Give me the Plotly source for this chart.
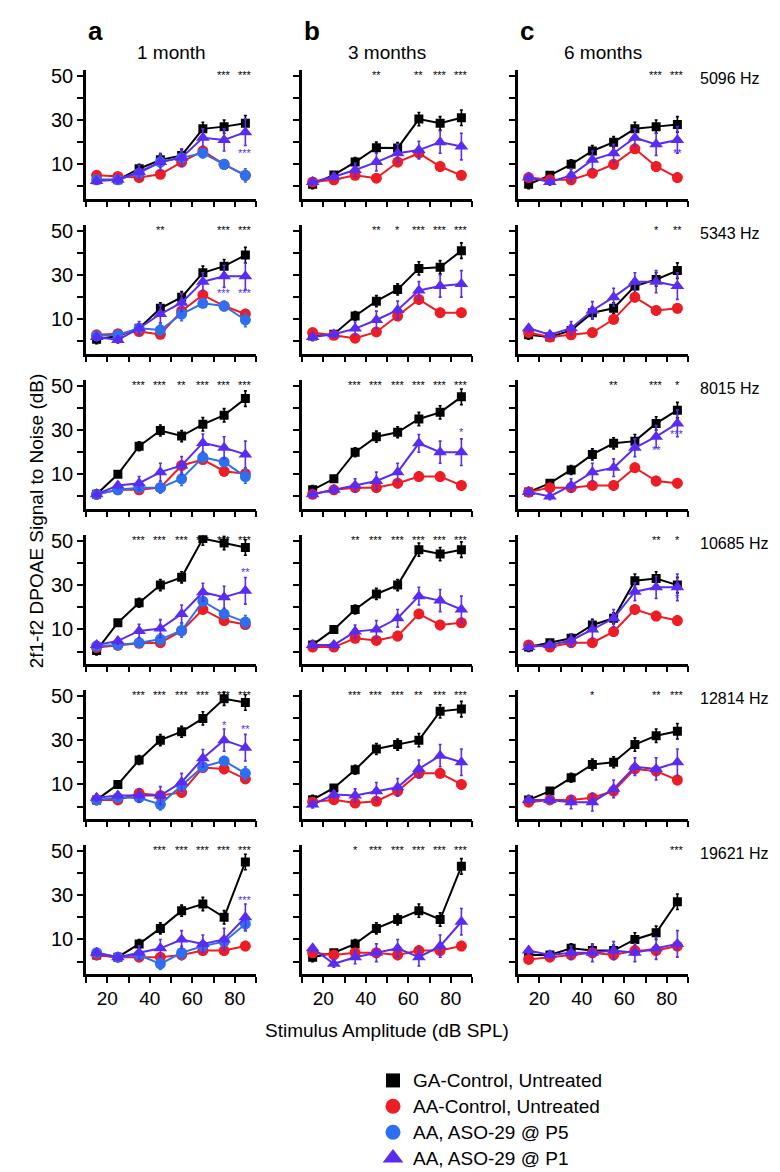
import plotly.graph_objects as go

X_DB = [15, 25, 35, 45, 55, 65, 75, 85]
FREQS = ["5096 Hz", "5343 Hz", "8015 Hz", "10685 Hz", "12814 Hz", "19621 Hz"]
AGES = ["1 month", "3 months", "6 months"]
PANEL_LETTERS = ["a", "b", "c"]
Y_TICKS = [0, 10, 20, 30, 40, 50]
Y_TICK_TEXT = ["", "10", "", "30", "", "50"]
X_TICKS = [10, 20, 30, 40, 50, 60, 70, 80, 90]
X_TICK_TEXT = ["", "20", "", "40", "", "60", "", "80", ""]

# ---- GA-Control, Untreated (black squares) ----
GA_1M = [[3, 3, 8, 12, 14, 26, 27, 28.5],
         [1, 2.5, 6, 15, 20, 31, 34, 39],
         [1, 10, 22.7, 29.8, 27.3, 32.6, 36.7, 44.2],
         [0.5, 13, 22, 30, 33.5, 51, 49, 47],
         [3, 10, 21, 30, 33.8, 39.8, 48.7, 47],
         [3, 2, 8, 15, 23, 26, 20, 45]]
GA_3M = [[1, 5.2, 11, 17.5, 17.3, 30.4, 28.5, 31],
         [2.5, 3.3, 11.5, 18.2, 23.5, 33, 33.5, 41],
         [3, 8, 20, 27, 29, 35, 38, 45],
         [3, 10, 19, 26, 30, 46, 44, 46],
         [3.1, 8.4, 16.6, 26, 28, 30, 43, 44],
         [2, 4, 8, 15, 19, 23, 19, 43]]
GA_6M = [[1, 5, 10, 16, 20, 26, 27, 28],
         [3, 2, 5, 13, 15, 25, 28, 32],
         [2, 6, 12, 19, 24, 25, 33, 39],
         [2, 4, 6, 12, 15, 32, 33, 30],
         [3, 7, 13, 19, 20, 28, 32, 34],
         [3, 3, 6, 5, 5, 10, 13, 27]]
GA_ERR = [2, 1, 2, 2.5, 2.5, 3, 3, 3.5]

# ---- AA-Control, Untreated (red circles) ----
AA_1M = [[5, 4.5, 4, 5.5, 11, 16, 10, 5],
         [3, 3.5, 4.5, 3.2, 13.8, 21, 16, 12.4],
         [1, 3, 3, 4, 14, 16.7, 11.4, 10.3],
         [1.8, 2.8, 3.7, 4, 9.3, 19, 14, 12.2],
         [3, 3, 6, 5, 6.4, 17.6, 17, 12.5],
         [3, 2, 2, 2, 3, 5, 5, 7]]
AA_3M = [[2, 3, 5, 3.7, 11, 15, 9, 5],
         [4, 2.8, 1.5, 4.3, 11.5, 19, 13, 13],
         [1, 3, 4, 4, 6, 9, 9, 5],
         [2, 2, 6, 5, 7, 17, 12, 13],
         [2.1, 3.1, 1.6, 2.4, 7, 15, 15, 10],
         [4, 3, 4, 4, 3, 5, 5, 7]]
AA_6M = [[4, 3, 3, 6, 10, 17, 9, 4],
         [4, 2, 3, 4, 10, 20, 14, 15],
         [2, 4, 4, 5, 5, 13, 7, 6],
         [3, 2, 4, 4, 9, 19, 16, 14],
         [2, 3, 3, 4, 7, 17, 16, 12],
         [1, 2, 3, 4, 3, 5, 5, 7]]
AA_ERR = [1, 1, 1, 1.5, 2, 2, 2, 2]

# ---- AA, ASO-29 @ P5 (blue circles, 1 month only) ----
P5_1M = [[3, 3, 6, 11, 13, 15, 10, 5],
         [2.5, 3, 6, 5.2, 12.4, 17.2, 16, 9.7],
         [1, 3, 4, 4, 8, 17.7, 15.6, 9],
         [2.5, 3, 4, 5.5, 9.5, 22.7, 17, 13.3],
         [3, 4, 4, 1, 9.5, 18, 20.6, 15],
         [4, 2, 3, -1, 4, 7, 9, 17]]
P5_ERR = [1, 1, 1.5, 2.5, 3, 2, 2, 3]

# ---- AA, ASO-29 @ P1 (purple triangles) ----
P1_1M = [[2.5, 3, 6.5, 11, 13, 22, 21, 24.5],
         [2, 0.7, 6, 12.4, 17.5, 27, 29.4, 29.4],
         [1, 5, 6, 11, 14, 24.2, 22, 19],
         [3, 4.8, 9.3, 10.4, 17, 26.8, 24.5, 27.4],
         [4, 5, 5, 5, 11, 21.8, 30, 26.6],
         [4, 2, 4, 6, 10, 8, 10, 20]]
P1_3M = [[2, 4.4, 7.4, 11, 15, 16.4, 20, 18],
         [2, 3.3, 5.8, 9.7, 14.2, 23, 25, 26],
         [1, 3, 5, 7, 11, 24, 20, 20],
         [3, 3, 9, 10, 15, 25, 23, 19],
         [0.9, 5.4, 5, 6.9, 8.7, 17, 23, 20],
         [6, -1, 2, 4, 6, 2, 7, 18]]
P1_6M = [[4, 2, 5, 12, 15, 22, 19, 21],
         [6, 3, 6, 14, 20, 27, 27, 25],
         [2, 0, 5, 11, 13, 22, 27, 33],
         [2, 3, 5, 10, 15, 27, 29, 29],
         [3, 3, 2, 2, 8, 18, 17, 20],
         [5, 3, 4, 4, 5, 4, 6, 8]]
P1_ERR = [1.5, 1.5, 3, 4, 4, 4, 5, 6]

# ---- significance stars (GA vs AA), one list of 8 per row ----
STARS_1M = [["", "", "", "", "", "", "***", "***"],
            ["", "", "", "**", "", "", "***", "***"],
            ["", "", "***", "***", "**", "***", "***", "***"],
            ["", "", "***", "***", "***", "***", "***", "***"],
            ["", "", "***", "***", "***", "***", "***", "***"],
            ["", "", "", "***", "***", "***", "***", "***"]]
STARS_3M = [["", "", "", "**", "", "**", "***", "***"],
            ["", "", "", "**", "*", "***", "***", "***"],
            ["", "", "***", "***", "***", "***", "***", "***"],
            ["", "", "**", "***", "***", "***", "***", "***"],
            ["", "", "***", "***", "***", "**", "***", "***"],
            ["", "", "*", "***", "***", "***", "***", "***"]]
STARS_6M = [["", "", "", "", "", "", "***", "***"],
            ["", "", "", "", "", "", "*", "**"],
            ["", "", "", "", "**", "", "***", "*"],
            ["", "", "", "", "", "", "**", "*"],
            ["", "", "", "*", "", "", "**", "***"],
            ["", "", "", "", "", "", "", "***"]]
# purple stars (P1 vs AA): (column, row, x dB, y dB, text)
P1_STARS = [(0, 0, 85, 15, "***"), (0, 1, 75, 22, "***"), (0, 1, 85, 22, "***"),
            (0, 3, 85, 36, "**"), (0, 4, 75, 37, "*"), (0, 4, 85, 35, "**"),
            (0, 5, 85, 28, "***"), (1, 2, 85, 29, "*"), (2, 0, 85, 15, "**"),
            (2, 2, 75, 21, "**"), (2, 2, 85, 28, "***"), (2, 3, 85, 24, "*")]

BLACK = "#000000"
RED = "#ee1c25"
BLUE = "#2e6ff0"
PURPLE = "#5a2cf2"
FONT = "Liberation Sans, Arial, sans-serif"

W, H = 780, 1172
COL_X = [(78, 248), (294, 464), (510, 680)]
ROW_TOP0, ROW_PITCH, ROW_H = 57.4, 155.7, 129
Y_RANGE = [-5.5, 52.5]

GA = [GA_1M, GA_3M, GA_6M]
AA = [AA_1M, AA_3M, AA_6M]
P1 = [P1_1M, P1_3M, P1_6M]
STARS = [STARS_1M, STARS_3M, STARS_6M]

fig = go.Figure()
layout = {}
annotations = []


def add_series(xa, ya, y, err, color, symbol, size, name):
    fig.add_trace(go.Scatter(
        x=X_DB, y=y, mode="lines+markers", xaxis=xa, yaxis=ya,
        line=dict(color=color, width=2),
        marker=dict(color=color, symbol=symbol, size=size, line=dict(width=0)),
        error_y=dict(type="data", array=err, color=color, thickness=1.6, width=1.5),
        name=name, showlegend=False))


for c in range(3):
    for r in range(6):
        idx = r * 3 + c + 1
        xa = "x" if idx == 1 else f"x{idx}"
        ya = "y" if idx == 1 else f"y{idx}"
        top = ROW_TOP0 + r * ROW_PITCH
        bot = top + ROW_H
        x0, x1 = COL_X[c]
        layout["xaxis" if idx == 1 else f"xaxis{idx}"] = dict(
            domain=[x0 / W, x1 / W], range=[10, 90], anchor=ya,
            tickmode="array", tickvals=X_TICKS,
            ticktext=X_TICK_TEXT if r == 5 else [""] * len(X_TICKS),
            ticks="outside", ticklen=6, tickwidth=2, tickcolor=BLACK,
            showline=True, linecolor=BLACK, linewidth=2.5, showgrid=False,
            zeroline=False, tickfont=dict(size=19, color=BLACK, family=FONT))
        layout["yaxis" if idx == 1 else f"yaxis{idx}"] = dict(
            domain=[1 - bot / H, 1 - top / H], range=Y_RANGE, anchor=xa,
            tickmode="array", tickvals=Y_TICKS,
            ticktext=Y_TICK_TEXT if c == 0 else [""] * len(Y_TICKS),
            ticks="outside", ticklen=6, tickwidth=2, tickcolor=BLACK,
            showline=True, linecolor=BLACK, linewidth=2.5, showgrid=False,
            zeroline=False, tickfont=dict(size=20, color=BLACK, family=FONT))

        add_series(xa, ya, GA[c][r], GA_ERR, BLACK, "square", 9, "GA")
        add_series(xa, ya, AA[c][r], AA_ERR, RED, "circle", 11, "AA")
        if c == 0:
            add_series(xa, ya, P5_1M[r], P5_ERR, BLUE, "circle", 11, "P5")
        add_series(xa, ya, P1[c][r], P1_ERR, PURPLE, "triangle-up", 12, "P1")

        for k, s in enumerate(STARS[c][r]):
            if s:
                annotations.append(dict(x=X_DB[k], y=50.5, xref=xa, yref=ya, text=s,
                                        showarrow=False, font=dict(size=11, color=BLACK, family=FONT)))
        if c == 2:
            annotations.append(dict(x=(x1 + 10) / W, y=1 - (top + 8) / H, xref="paper", yref="paper",
                                    text=FREQS[r], showarrow=False, xanchor="left", yanchor="middle",
                                    font=dict(size=16, color=BLACK, family=FONT)))

for (c, r, xv, yv, s) in P1_STARS:
    idx = r * 3 + c + 1
    xa = "x" if idx == 1 else f"x{idx}"
    ya = "y" if idx == 1 else f"y{idx}"
    annotations.append(dict(x=xv, y=yv, xref=xa, yref=ya, text=s, showarrow=False,
                            font=dict(size=11, color=PURPLE, family=FONT)))

for c in range(3):
    x0, x1 = COL_X[c]
    annotations.append(dict(x=x0 / W, y=1 - 18 / H, xref="paper", yref="paper", text="<b>" + PANEL_LETTERS[c] + "</b>",
                            showarrow=False, xanchor="left", yanchor="middle",
                            font=dict(size=26, color=BLACK, family=FONT)))
    annotations.append(dict(x=(x0 + x1) / 2 / W, y=1 - 40 / H, xref="paper", yref="paper", text=AGES[c],
                            showarrow=False, xanchor="center", yanchor="middle",
                            font=dict(size=19, color=BLACK, family=FONT)))

# axis titles
annotations.append(dict(x=16 / W, y=1 - 510 / H, xref="paper", yref="paper",
                        text="2f1-f2 DPOAE Signal to Noise (dB)", textangle=-90, showarrow=False,
                        font=dict(size=19, color=BLACK, family=FONT)))
annotations.append(dict(x=379 / W, y=1 - 1034 / H, xref="paper", yref="paper",
                        text="Stimulus Amplitude (dB SPL)", showarrow=False,
                        font=dict(size=19, color=BLACK, family=FONT)))

# legend (drawn as marker traces on a hidden pixel-space axis)
LEG_LABELS = ["GA-Control, Untreated", "AA-Control, Untreated", "AA, ASO-29 @ P5", "AA, ASO-29 @ P1"]
LEG_COLORS = [BLACK, RED, BLUE, PURPLE]
LEG_SYMBOLS = ["square", "circle", "circle", "triangle-up"]
LEG_SIZES = [14, 15, 15, 18]
LEG_Y = [1072, 1098, 1124, 1150]
LEG_X = 385
layout["xaxis19"] = dict(domain=[0, 1], range=[0, W], visible=False, anchor="y19")
layout["yaxis19"] = dict(domain=[0, 1], range=[H, 0], visible=False, anchor="x19")
for lbl, col, sym, sz, ly in zip(LEG_LABELS, LEG_COLORS, LEG_SYMBOLS, LEG_SIZES, LEG_Y):
    fig.add_trace(go.Scatter(x=[LEG_X], y=[ly], xaxis="x19", yaxis="y19", mode="markers",
                             marker=dict(color=col, symbol=sym, size=sz), showlegend=False,
                             hoverinfo="skip"))
    annotations.append(dict(x=LEG_X + 18, y=ly, xref="x19", yref="y19", text=lbl, showarrow=False,
                            xanchor="left", yanchor="middle",
                            font=dict(size=19, color=BLACK, family=FONT)))

fig.update_layout(width=W, height=H, margin=dict(l=0, r=0, t=0, b=0),
                  paper_bgcolor="white", plot_bgcolor="rgba(0,0,0,0)",
                  annotations=annotations, showlegend=False, **layout)
fig.write_html("out.html")
